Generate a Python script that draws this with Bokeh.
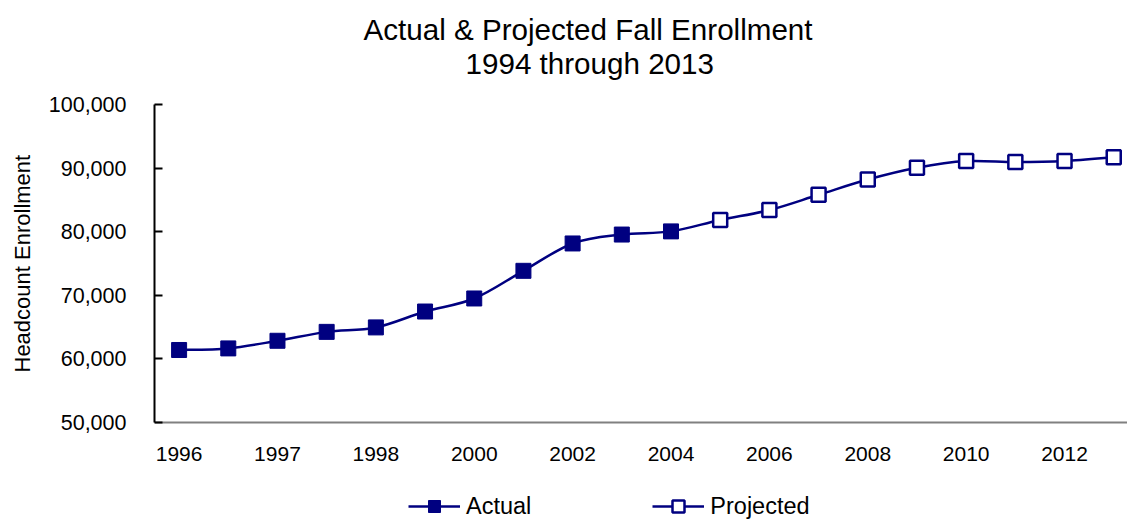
from bokeh.plotting import figure
from bokeh.models import (FixedTicker, NumeralTickFormatter, Title, Legend,
                          LegendItem, Range1d, ColumnDataSource)
from bokeh.embed import file_html
from bokeh.resources import INLINE

# ---- data ----
tick_labels = ["1996", "1997", "1998", "2000", "2002", "2004",
               "2006", "2008", "2010", "2012"]
actual = [61400, 61650, 62850, 64250, 64950, 67450, 69500, 73850, 78150,
          79550, 80050]
projected = [81850, 83400, 85800, 88200, 90050, 91100, 90950, 91100, 91700]
y_ticks = [50000, 60000, 70000, 80000, 90000, 100000]

NAVY = "#000080"
FONT = "Liberation Sans"

values = actual + projected
n = len(values)
xs = list(range(n))
n_a = len(actual)
tick_pos = xs[::2]
y_min, y_max = y_ticks[0], y_ticks[-1]


def bezier_source(seg_idx):
    """Smoothed (Catmull-Rom) segments between consecutive data points."""
    d = dict(x0=[], y0=[], x1=[], y1=[], cx0=[], cy0=[], cx1=[], cy1=[])
    for i in seg_idx:
        a, b = max(i - 1, 0), min(i + 2, n - 1)
        xa, ya = xs[a], values[a]
        xb0, yb0 = xs[i], values[i]
        xb1, yb1 = xs[i + 1], values[i + 1]
        xc, yc = xs[b], values[b]
        d["x0"].append(xb0); d["y0"].append(yb0)
        d["x1"].append(xb1); d["y1"].append(yb1)
        d["cx0"].append(xb0 + (xb1 - xa) / 6.0)
        d["cy0"].append(yb0 + (yb1 - ya) / 6.0)
        d["cx1"].append(xb1 - (xc - xb0) / 6.0)
        d["cy1"].append(yb1 - (yc - yb0) / 6.0)
    return ColumnDataSource(d)


# frame spans from y=81px to the bottom of the figure; the value axis is
# bounded to 50,000-100,000 and the category axis sits at 50,000
p = figure(width=1127, height=521,
           x_range=Range1d(-0.5, 19.28), y_range=Range1d(34434, 103616),
           output_backend="svg", toolbar_location=None,
           min_border_left=154, min_border_right=0,
           min_border_bottom=0, min_border_top=81)
p.outline_line_color = None
p.grid.visible = False
p.background_fill_color = "white"

# titles (main title outermost, subtitle beneath it)
p.title.text = "Actual & Projected Fall Enrollment"
p.title.align = "left"
p.title.offset = 209
p.title.vertical_align = "bottom"
p.title.text_font = FONT
p.title.text_font_size = "29.6px"
p.title.text_font_style = "normal"
p.title.text_color = "black"
p.title.standoff = 2
sub_title = Title(text="1994 through 2013", align="left", offset=311,
                  vertical_align="top", text_font=FONT, text_font_size="29.6px",
                  text_font_style="normal", text_color="black", standoff=0)
p.add_layout(sub_title, "above")

# lines
act_line = p.bezier(x0="x0", y0="y0", x1="x1", y1="y1", cx0="cx0", cy0="cy0",
                    cx1="cx1", cy1="cy1", source=bezier_source(range(0, n_a - 1)),
                    line_color=NAVY, line_width=2.5)
proj_line = p.bezier(x0="x0", y0="y0", x1="x1", y1="y1", cx0="cx0", cy0="cy0",
                     cx1="cx1", cy1="cy1", source=bezier_source(range(n_a - 1, n - 1)),
                     line_color=NAVY, line_width=2.5)
act_pts = p.scatter(xs[:n_a], actual, marker="square", size=15,
                    fill_color=NAVY, line_color=NAVY, line_width=1)
proj_pts = p.scatter(xs[n_a:], projected, marker="square", size=14,
                     fill_color="white", line_color=NAVY, line_width=2.5)

# axes
xa = p.xaxis[0]
xa.fixed_location = y_min
xa.ticker = FixedTicker(ticks=tick_pos)
xa.major_label_overrides = {pos: lab for pos, lab in zip(tick_pos, tick_labels)}
xa.axis_line_color = "#808080"
xa.axis_line_width = 2
xa.major_tick_line_color = None
xa.minor_tick_line_color = None
xa.major_label_text_font = FONT
xa.major_label_text_font_size = "21px"
xa.major_label_text_color = "black"
xa.major_label_standoff = 19

ya = p.yaxis[0]
ya.bounds = (y_min, y_max)
ya.ticker = FixedTicker(ticks=y_ticks)
ya.formatter = NumeralTickFormatter(format="0,0")
ya.axis_line_color = "black"
ya.axis_line_width = 2
ya.major_tick_in = 8
ya.major_tick_out = 0
ya.major_tick_line_width = 2
ya.major_tick_line_color = "black"
ya.minor_tick_line_color = None
ya.major_label_text_font = FONT
ya.major_label_text_font_size = "21.5px"
ya.major_label_text_color = "black"
ya.major_label_standoff = 28

# value-axis title, placed level with the 50,000-100,000 span
y_title = Title(text="Headcount Enrollment", align="left", offset=149,
                vertical_align="top", text_font=FONT, text_font_size="22px",
                text_font_style="normal", text_color="black", standoff=18)
p.add_layout(y_title, "left")

# legend (near the bottom edge, below the category axis)
legend = Legend(items=[LegendItem(label="Actual", renderers=[act_line, act_pts]),
                       LegendItem(label="Projected", renderers=[proj_line, proj_pts])],
                orientation="horizontal", location=(254, 0),
                glyph_width=52, glyph_height=30, label_standoff=6, spacing=121,
                padding=0, margin=0, border_line_color=None,
                background_fill_alpha=0, label_text_font=FONT,
                label_text_font_size="23.5px", label_text_color="black")
p.add_layout(legend, "center")

open("out.html", "w").write(file_html(p, INLINE))
